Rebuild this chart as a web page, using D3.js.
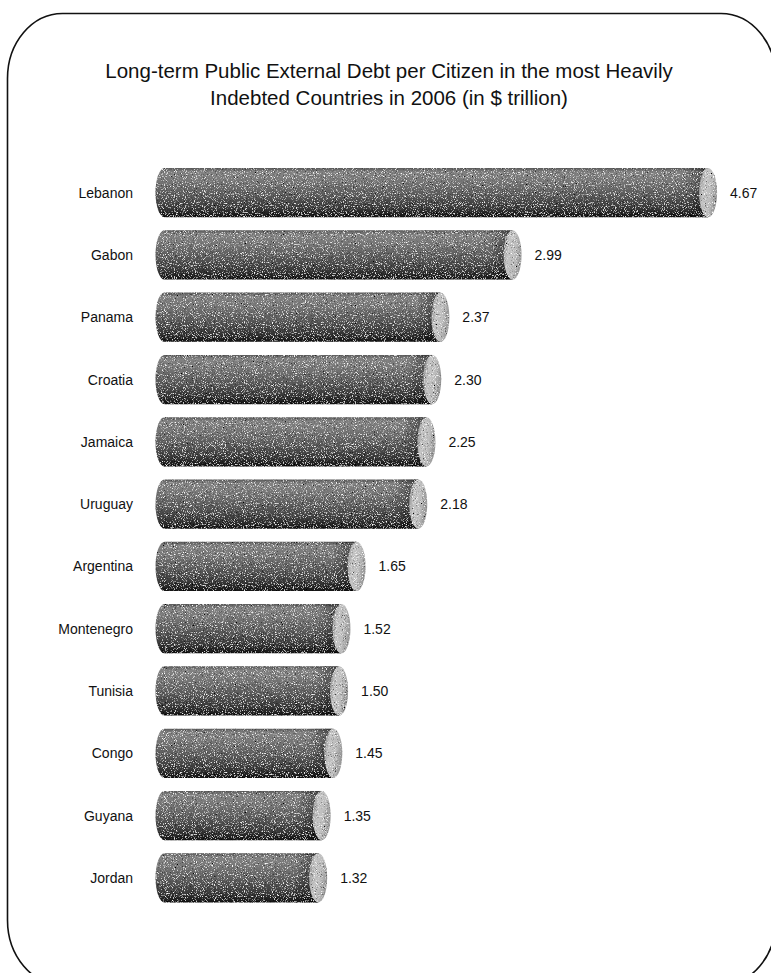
<!DOCTYPE html>
<html>
<head>
<meta charset="utf-8">
<script src="https://cdn.jsdelivr.net/npm/d3@7"></script>
<style>
  html, body { margin: 0; padding: 0; background: #fff; }
  svg { display: block; }
  text { font-family: "Liberation Sans", Arial, Helvetica, sans-serif; fill: #111; }
</style>
</head>
<body>
<svg id="chart" width="771" height="973"></svg>
<script>
// Long-term public external debt per citizen, 2006
const countries = ["Lebanon", "Gabon", "Panama", "Croatia", "Jamaica", "Uruguay",
                   "Argentina", "Montenegro", "Tunisia", "Congo", "Guyana", "Jordan"];
const debt = [4.67, 2.99, 2.37, 2.30, 2.25, 2.18, 1.65, 1.52, 1.50, 1.45, 1.35, 1.32];
const titleLines = [
  "Long-term Public External Debt per Citizen in the most Heavily",
  "Indebted Countries in 2006 (in $ trillion)"
];

const data = countries.map((c, i) => ({ country: c, value: debt[i] }));

const svg = d3.select("#chart");

// Frame: rounded panel running off the right and bottom edges
(function frame() {
  const x0 = 7.5, y0 = 13.5, x1 = 776, y1 = 985, rx = 55, ry = 65;
  svg.append("path")
    .attr("d", `M${x0 + rx},${y0} L${x1 - rx},${y0}
                A${rx},${ry} 0 0 1 ${x1},${y0 + ry}
                L${x1},${y1 - ry}
                A${rx},${ry} 0 0 1 ${x1 - rx},${y1}
                L${x0 + rx},${y1}
                A${rx},${ry} 0 0 1 ${x0},${y1 - ry}
                L${x0},${y0 + ry}
                A${rx},${ry} 0 0 1 ${x0 + rx},${y0} Z`)
    .attr("fill", "none")
    .attr("stroke", "#111")
    .attr("stroke-width", 1.6);
})();

// Title
svg.append("g").selectAll("text")
  .data(titleLines)
  .join("text")
  .attr("x", 389)
  .attr("y", (d, i) => 78 + i * 27)
  .attr("text-anchor", "middle")
  .attr("font-size", 20.5)
  .text(d => d);

// Scales
const x = d3.scaleLinear().domain([0, 5]).range([164.5, 746.5]);
const y = d3.scaleBand().domain(countries).range([161.5, 909]).paddingInner(0.21).paddingOuter(0.105);
const capRx = 9;

// Defs: shading and grain for the cylinders
const defs = svg.append("defs");
const bodyGrad = defs.append("linearGradient")
  .attr("id", "bodyGrad").attr("x1", 0).attr("y1", 0).attr("x2", 0).attr("y2", 1);
[[0, "#5a5a5a"], [0.08, "#828282"], [0.25, "#787878"], [0.55, "#5a5a5a"], [0.82, "#383838"], [1, "#141414"]]
  .forEach(([o, c]) => bodyGrad.append("stop").attr("offset", o).attr("stop-color", c));

const capGrad = defs.append("linearGradient")
  .attr("id", "capGrad").attr("x1", 0).attr("y1", 0).attr("x2", 1).attr("y2", 0.3);
[[0, "#8a8a8a"], [0.35, "#c4c4c4"], [0.7, "#bdbdbd"], [1, "#9a9a9a"]]
  .forEach(([o, c]) => capGrad.append("stop").attr("offset", o).attr("stop-color", c));

const endShade = defs.append("linearGradient")
  .attr("id", "endShade").attr("x1", 0).attr("y1", 0).attr("x2", 1).attr("y2", 0);
[[0, "#000", 0], [1, "#000", 0.45]]
  .forEach(([o, c, a]) => endShade.append("stop").attr("offset", o).attr("stop-color", c).attr("stop-opacity", a));

defs.append("filter").attr("id", "grain")
  .attr("x", 0).attr("y", 0).attr("width", "100%").attr("height", "100%")
  .html(`
    <feTurbulence type="fractalNoise" baseFrequency="0.9" numOctaves="2" seed="7" result="noise"/>
    <feColorMatrix in="noise" type="matrix"
      values="0 0 0 0 1  0 0 0 0 1  0 0 0 0 1  4 0 0 0 -2.25" result="light"/>
    <feColorMatrix in="noise" type="matrix"
      values="0 0 0 0 0  0 0 0 0 0  0 0 0 0 0  0 -4 0 0 1.65" result="dark"/>
    <feComposite in="light" in2="SourceGraphic" operator="in" result="lightIn"/>
    <feComposite in="dark" in2="SourceGraphic" operator="in" result="darkIn"/>
    <feMerge>
      <feMergeNode in="SourceGraphic"/>
      <feMergeNode in="darkIn"/>
      <feMergeNode in="lightIn"/>
    </feMerge>`);

// Cylinders
const bars = svg.append("g").attr("filter", "url(#grain)")
  .selectAll("g.bar")
  .data(data)
  .join("g")
  .attr("class", "bar");

bars.append("path")
  .attr("d", d => {
    const x0 = x(0), xv = x(d.value), t = y(d.country), b = t + y.bandwidth(), ry = y.bandwidth() / 2;
    return `M${x0},${t} L${xv},${t} L${xv},${b} L${x0},${b} A${capRx},${ry} 0 0 1 ${x0},${t} Z`;
  })
  .attr("fill", "url(#bodyGrad)");

// darkening toward the far end of each body
bars.append("rect")
  .attr("x", d => x(d.value) - 24)
  .attr("y", d => y(d.country))
  .attr("width", 24)
  .attr("height", y.bandwidth())
  .attr("fill", "url(#endShade)");

bars.append("ellipse")
  .attr("cx", d => x(d.value))
  .attr("cy", d => y(d.country) + y.bandwidth() / 2)
  .attr("rx", capRx)
  .attr("ry", y.bandwidth() / 2)
  .attr("fill", "url(#capGrad)");

// Category labels
svg.append("g").selectAll("text")
  .data(data)
  .join("text")
  .attr("x", 133)
  .attr("y", d => y(d.country) + y.bandwidth() / 2)
  .attr("dy", "0.36em")
  .attr("text-anchor", "end")
  .attr("font-size", 14)
  .text(d => d.country);

// Value labels
svg.append("g").selectAll("text")
  .data(data)
  .join("text")
  .attr("x", d => x(d.value) + capRx + 13)
  .attr("y", d => y(d.country) + y.bandwidth() / 2)
  .attr("dy", "0.36em")
  .attr("font-size", 14)
  .text(d => d3.format(".2f")(d.value));
</script>
</body>
</html>
